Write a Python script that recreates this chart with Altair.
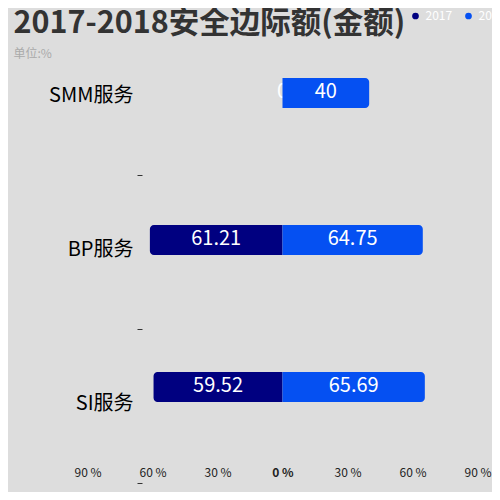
import altair as alt
import pandas as pd

categories = ["SMM服务", "BP服务", "SI服务"]
years = ["2017", "2018"]
v2017 = [0, 61.21, 59.52]
v2018 = [40, 64.75, 65.69]
tick_values = [-90, -60, -30, 0, 30, 60, 90]

rows = []
for cat, a, b in zip(categories, v2017, v2018):
    rows.append({"cat": cat, "year": "2017", "v": a, "lo": -a, "hi": 0})
    rows.append({"cat": cat, "year": "2018", "v": b, "lo": 0, "hi": b})
df = pd.DataFrame(rows)
df["mid"] = (df["lo"] + df["hi"]) / 2

FONT = "Noto Sans CJK SC"
NAVY = "#000080"
BLUE = "#0550f2"

x_scale = alt.Scale(domain=[-90, 90], nice=False, zero=False)
x_axis = alt.Axis(values=tick_values, labelExpr="abs(datum.value) + ' %'",
                  title=None, grid=False, domain=False, ticks=False, tickSize=0,
                  labelPadding=0, offset=-16, labelFontSize=12, labelColor="#222",
                  labelFont=FONT, labelFlush=False, labelOverlap=False,
                  labelFontWeight={"expr": "datum.value == 0 ? 'bold' : 'normal'"})
bar_y = alt.Y("cat:N", sort=categories, axis=None,
              scale=alt.Scale(range=[-1.5, 439.5], paddingInner=0, paddingOuter=0))
color = alt.Color("year:N", scale=alt.Scale(domain=years, range=[NAVY, BLUE]),
                  legend=alt.Legend(orient="none", legendX=322, legendY=-11,
                                    direction="horizontal", title=None,
                                    symbolType="circle", symbolSize=45,
                                    symbolStrokeWidth=0, labelColor="white",
                                    labelFontSize=12, labelFont=FONT,
                                    columnPadding=10, labelOffset=4, padding=0))

base = alt.Chart(df)

# invisible layer that only carries the category axis
axis_layer = base.mark_point(opacity=0).encode(
    y=alt.Y("cat:N", sort=categories, title=None,
            scale=alt.Scale(paddingInner=0, paddingOuter=0),
            axis=alt.Axis(domain=False, grid=False, tickSize=5, tickColor="#333",
                          tickOffset=77, labelOffset=-80, labelPadding=4,
                          offset=-54.5, labelFontSize=20, labelColor="#000",
                          labelFont=FONT))
)

bars17 = base.transform_filter("datum.year == '2017'").mark_bar(
    size=30, cornerRadiusTopLeft=4, cornerRadiusBottomLeft=4
).encode(
    x=alt.X("lo:Q", scale=x_scale, axis=x_axis),
    x2="hi:Q",
    y=bar_y,
    color=color,
)
text17 = base.transform_filter("datum.year == '2017'").mark_text(
    color="white", fontSize=20, font=FONT, baseline="middle", dy=-1
).encode(
    x=alt.X("mid:Q", scale=x_scale, axis=x_axis),
    y=bar_y,
    text=alt.Text("v:Q"),
)
bars18 = base.transform_filter("datum.year == '2018'").mark_bar(
    size=30, cornerRadiusTopRight=4, cornerRadiusBottomRight=4
).encode(
    x=alt.X("lo:Q", scale=x_scale, axis=x_axis),
    x2="hi:Q",
    y=bar_y,
    color=color,
)
text18 = base.transform_filter("datum.year == '2018'").mark_text(
    color="white", fontSize=20, font=FONT, baseline="middle", dy=-1
).encode(
    x=alt.X("mid:Q", scale=x_scale, axis=x_axis),
    y=bar_y,
    text=alt.Text("v:Q"),
)

chart = alt.layer(axis_layer, bars17, text17, bars18, text18).resolve_scale(
    y="independent"
).properties(
    width=390,
    height=462,
    padding={"left": 79.5, "top": 13, "right": 14.5, "bottom": 9},
    autosize=alt.AutoSizeParams(type="none"),
    background="#dddddd",
    title=alt.TitleParams(
        "2017-2018安全边际额(金额)", subtitle="单位:%", anchor="start",
        frame="group", fontSize=30.5, fontWeight="bold", color="#333",
        font=FONT, subtitleFont=FONT, subtitleFontSize=12,
        subtitleColor="#aaa", subtitlePadding=10, dx=-74, offset=-50,
    ),
).configure_view(strokeWidth=0)

chart.save("out.html", embed_options={"renderer": "svg", "actions": False})
